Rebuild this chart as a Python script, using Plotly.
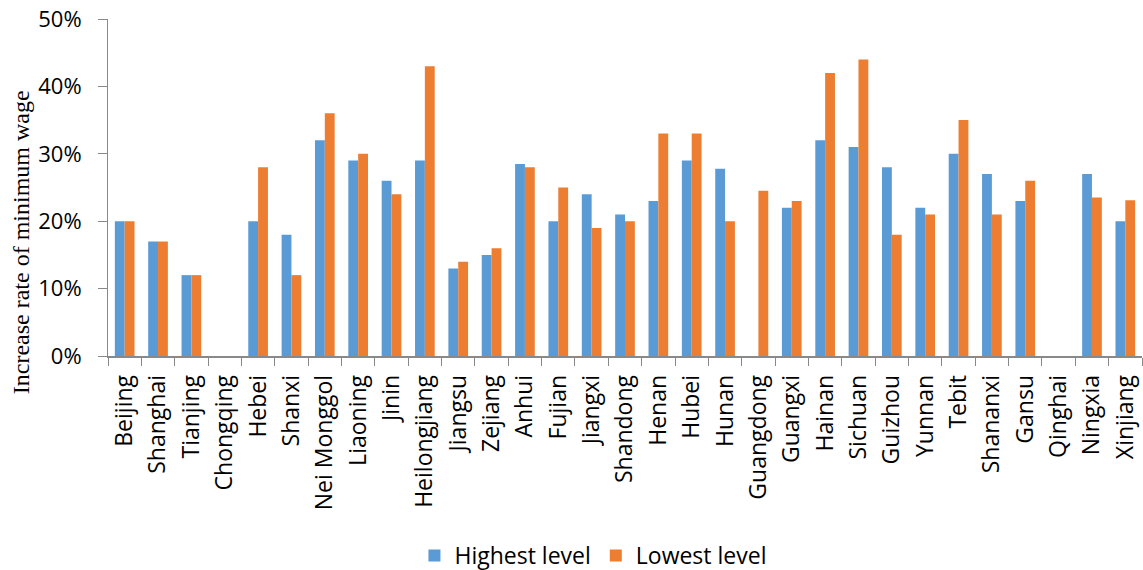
import plotly.graph_objects as go

provinces = ["Beijing", "Shanghai", "Tianjing", "Chongqing", "Hebei", "Shanxi", "Nei Monggol",
             "Liaoning", "Jinin", "Heilongjiang", "Jiangsu", "Zejiang", "Anhui", "Fujian",
             "Jiangxi", "Shandong", "Henan", "Hubei", "Hunan", "Guangdong", "Guangxi",
             "Hainan", "Sichuan", "Guizhou", "Yunnan", "Tebit", "Shananxi", "Gansu",
             "Qinghai", "Ningxia", "Xinjiang"]
highest = [0.20, 0.17, 0.12, None, 0.20, 0.18, 0.32,
           0.29, 0.26, 0.29, 0.13, 0.15, 0.285, 0.20,
           0.24, 0.21, 0.23, 0.29, 0.278, None, 0.22,
           0.32, 0.31, 0.28, 0.22, 0.30, 0.27, 0.23,
           None, 0.27, 0.20]
lowest = [0.20, 0.17, 0.12, None, 0.28, 0.12, 0.36,
          0.30, 0.24, 0.43, 0.14, 0.16, 0.28, 0.25,
          0.19, 0.20, 0.33, 0.33, 0.20, 0.245, 0.23,
          0.42, 0.44, 0.18, 0.21, 0.35, 0.21, 0.26,
          None, 0.235, 0.231]
y_ticks = [0, 0.1, 0.2, 0.3, 0.4, 0.5]

fig = go.Figure()
fig.add_trace(go.Bar(x=provinces, y=highest, name="Highest level",
                     marker=dict(color="#5B9BD5", line=dict(width=0))))
fig.add_trace(go.Bar(x=provinces, y=lowest, name="Lowest level",
                     marker=dict(color="#ED7D31", line=dict(width=0))))

axis_color = "#898989"
fig.update_layout(
    width=1143, height=570,
    margin=dict(l=108, r=1, t=19, b=214, autoexpand=False),
    paper_bgcolor="white", plot_bgcolor="white",
    barmode="group", bargap=0.41, bargroupgap=0,
    font=dict(family="Open Sans, sans-serif", color="#000000"),
    xaxis=dict(
        tickangle=-90, tickfont=dict(size=23, color="#000000"),
        showline=True, linecolor=axis_color, linewidth=1.5,
        ticks="outside", tickson="boundaries", ticklen=8, tickcolor=axis_color,
        ticklabelstandoff=8, automargin=False,
        showgrid=False,
    ),
    yaxis=dict(
        range=[0, 0.5], tickvals=y_ticks, tickformat=".0%",
        tickfont=dict(size=22, color="#000000"),
        showline=True, linecolor=axis_color, linewidth=1,
        ticks="outside", ticklen=9, tickcolor=axis_color,
        ticklabelstandoff=12, automargin=False,
        showgrid=False, zeroline=False,
    ),
    legend=dict(orientation="h", x=0.469, xanchor="center", y=-0.592, yanchor="middle",
                font=dict(size=23), traceorder="normal"),
    showlegend=True,
)
fig.add_annotation(text="Increase rate of minimum wage", xref="paper", yref="paper",
                   x=-0.084, y=0.338, xanchor="center", yanchor="middle",
                   textangle=-90, showarrow=False,
                   font=dict(family="Liberation Serif, Times New Roman, serif", size=24, color="#000000"))

fig.write_html("out.html", post_script="document.body.style.margin='0px';",
               config={"displayModeBar": False})
